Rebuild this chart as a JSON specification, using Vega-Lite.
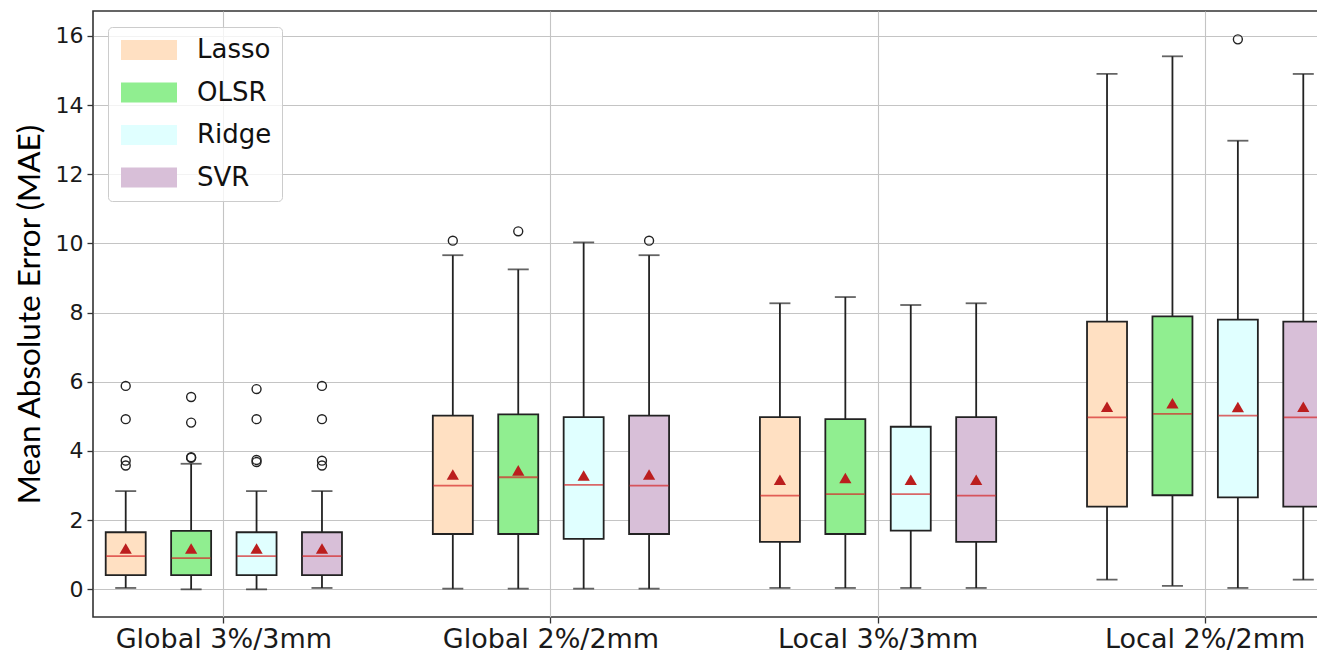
{
  "$schema": "https://vega.github.io/schema/vega-lite/v6.json",
  "autosize": {"type": "none"},
  "padding": {"left": 93, "top": 11, "right": -2, "bottom": 36},
  "width": 1226,
  "height": 606,
  "background": "white",
  "config": {
    "view": {"stroke": "#333333", "strokeWidth": 1.6},
    "axis": {
      "gridColor": "#c4c4c4",
      "gridWidth": 1.1,
      "tickColor": "#333333",
      "tickSize": 6,
      "tickWidth": 1.3,
      "domain": false,
      "labelColor": "#1a1a1a",
      "labelFont": "DejaVu Sans"
    }
  },
  "datasets": {
    "boxes": [
      {"group": "Global 3%/3mm", "model": "Lasso", "lower": 0.04, "q1": 0.41, "median": 0.96, "q3": 1.65, "upper": 2.84, "mean": 1.18},
      {"group": "Global 3%/3mm", "model": "OLSR", "lower": 0.0, "q1": 0.41, "median": 0.9, "q3": 1.69, "upper": 3.63, "mean": 1.18},
      {"group": "Global 3%/3mm", "model": "Ridge", "lower": 0.0, "q1": 0.41, "median": 0.96, "q3": 1.65, "upper": 2.84, "mean": 1.18},
      {"group": "Global 3%/3mm", "model": "SVR", "lower": 0.04, "q1": 0.41, "median": 0.96, "q3": 1.65, "upper": 2.84, "mean": 1.18},
      {"group": "Global 2%/2mm", "model": "Lasso", "lower": 0.02, "q1": 1.6, "median": 3.0, "q3": 5.02, "upper": 9.66, "mean": 3.32},
      {"group": "Global 2%/2mm", "model": "OLSR", "lower": 0.02, "q1": 1.6, "median": 3.24, "q3": 5.06, "upper": 9.25, "mean": 3.44},
      {"group": "Global 2%/2mm", "model": "Ridge", "lower": 0.02, "q1": 1.46, "median": 3.02, "q3": 4.98, "upper": 10.03, "mean": 3.29},
      {"group": "Global 2%/2mm", "model": "SVR", "lower": 0.02, "q1": 1.6, "median": 3.0, "q3": 5.02, "upper": 9.66, "mean": 3.32},
      {"group": "Local 3%/3mm", "model": "Lasso", "lower": 0.04, "q1": 1.37, "median": 2.71, "q3": 4.98, "upper": 8.27, "mean": 3.17},
      {"group": "Local 3%/3mm", "model": "OLSR", "lower": 0.04, "q1": 1.6, "median": 2.75, "q3": 4.92, "upper": 8.45, "mean": 3.22},
      {"group": "Local 3%/3mm", "model": "Ridge", "lower": 0.04, "q1": 1.7, "median": 2.75, "q3": 4.7, "upper": 8.22, "mean": 3.17},
      {"group": "Local 3%/3mm", "model": "SVR", "lower": 0.04, "q1": 1.37, "median": 2.71, "q3": 4.98, "upper": 8.27, "mean": 3.17},
      {"group": "Local 2%/2mm", "model": "Lasso", "lower": 0.28, "q1": 2.39, "median": 4.97, "q3": 7.74, "upper": 14.9, "mean": 5.28},
      {"group": "Local 2%/2mm", "model": "OLSR", "lower": 0.1, "q1": 2.72, "median": 5.07, "q3": 7.89, "upper": 15.41, "mean": 5.38},
      {"group": "Local 2%/2mm", "model": "Ridge", "lower": 0.04, "q1": 2.66, "median": 5.02, "q3": 7.8, "upper": 12.97, "mean": 5.27},
      {"group": "Local 2%/2mm", "model": "SVR", "lower": 0.28, "q1": 2.39, "median": 4.97, "q3": 7.74, "upper": 14.9, "mean": 5.28}
    ],
    "outliers": [
      {"group": "Global 3%/3mm", "model": "Lasso", "value": 5.88},
      {"group": "Global 3%/3mm", "model": "Lasso", "value": 4.92},
      {"group": "Global 3%/3mm", "model": "Lasso", "value": 3.72},
      {"group": "Global 3%/3mm", "model": "Lasso", "value": 3.58},
      {"group": "Global 3%/3mm", "model": "OLSR", "value": 5.56},
      {"group": "Global 3%/3mm", "model": "OLSR", "value": 4.82},
      {"group": "Global 3%/3mm", "model": "OLSR", "value": 3.82},
      {"group": "Global 3%/3mm", "model": "OLSR", "value": 3.8},
      {"group": "Global 3%/3mm", "model": "Ridge", "value": 5.79},
      {"group": "Global 3%/3mm", "model": "Ridge", "value": 4.92},
      {"group": "Global 3%/3mm", "model": "Ridge", "value": 3.74},
      {"group": "Global 3%/3mm", "model": "Ridge", "value": 3.68},
      {"group": "Global 3%/3mm", "model": "SVR", "value": 5.88},
      {"group": "Global 3%/3mm", "model": "SVR", "value": 4.92},
      {"group": "Global 3%/3mm", "model": "SVR", "value": 3.72},
      {"group": "Global 3%/3mm", "model": "SVR", "value": 3.58},
      {"group": "Global 2%/2mm", "model": "Lasso", "value": 10.08},
      {"group": "Global 2%/2mm", "model": "OLSR", "value": 10.35},
      {"group": "Global 2%/2mm", "model": "SVR", "value": 10.08},
      {"group": "Local 2%/2mm", "model": "Ridge", "value": 15.9}
    ]
  },
  "data": {"name": "boxes"},
  "encoding": {
    "x": {
      "field": "group",
      "type": "nominal",
      "sort": ["Global 3%/3mm", "Global 2%/2mm", "Local 3%/3mm", "Local 2%/2mm"],
      "scale": {"range": [0, 1243], "paddingInner": 0.2, "paddingOuter": 0},
      "axis": {"title": null, "grid": true, "bandPosition": 0.5, "labelAngle": 0, "labelFontSize": 27, "labelPadding": 3, "labelLimit": 0}
    },
    "xOffset": {
      "field": "model",
      "type": "nominal",
      "sort": ["Lasso", "OLSR", "Ridge", "SVR"],
      "scale": {"paddingInner": 0, "paddingOuter": 0}
    }
  },
  "layer": [
    {
      "mark": {"type": "rule", "color": "#222222", "strokeWidth": 1.8},
      "encoding": {
        "y": {
          "field": "lower",
          "type": "quantitative",
          "scale": {"domain": [-0.8, 16.72], "nice": false, "zero": false},
          "axis": {
            "values": [0, 2, 4, 6, 8, 10, 12, 14, 16],
            "grid": true,
            "labelFontSize": 22,
            "labelPadding": 4,
            "title": "Mean Absolute Error (MAE)",
            "titleFont": "Lato",
            "titleFontSize": 31.5,
            "titleFontWeight": "normal",
            "titleColor": "#000000",
            "titlePadding": 9
          }
        },
        "y2": {"field": "upper"}
      }
    },
    {
      "mark": {"type": "tick", "color": "#222222", "thickness": 1.8, "size": 21},
      "encoding": {"y": {"field": "lower", "type": "quantitative"}}
    },
    {
      "mark": {"type": "tick", "color": "#222222", "thickness": 1.8, "size": 21},
      "encoding": {"y": {"field": "upper", "type": "quantitative"}}
    },
    {
      "mark": {"type": "bar", "width": 40, "stroke": "#222222", "strokeWidth": 1.8, "opacity": 1, "fillOpacity": 1},
      "encoding": {
        "y": {"field": "q3", "type": "quantitative"},
        "y2": {"field": "q1"},
        "fill": {
          "field": "model",
          "type": "nominal",
          "sort": ["Lasso", "OLSR", "Ridge", "SVR"],
          "scale": {"domain": ["Lasso", "OLSR", "Ridge", "SVR"], "range": ["#FFE0C2", "#90EE90", "#E0FFFF", "#D8BFD8"]},
          "legend": {
            "title": null,
            "orient": "none",
            "legendX": 15,
            "legendY": 16,
            "symbolType": "M-1,-1H4.6V1H-1Z",
            "symbolSize": 400,
            "symbolStrokeWidth": 0,
            "symbolOpacity": 1,
            "labelFont": "DejaVu Sans",
            "labelFontSize": 26,
            "labelColor": "#111111",
            "labelOffset": 53,
            "rowPadding": 16.5,
            "padding": 10,
            "fillColor": "rgba(255,255,255,0.8)",
            "strokeColor": "#cccccc",
            "cornerRadius": 4
          }
        }
      }
    },
    {
      "mark": {"type": "tick", "color": "#d62728", "thickness": 1.8, "size": 39},
      "encoding": {"y": {"field": "median", "type": "quantitative"}}
    },
    {
      "mark": {"type": "point", "shape": "triangle-up", "filled": true, "color": "#bb1e1e", "size": 150, "opacity": 1},
      "encoding": {"y": {"field": "mean", "type": "quantitative"}}
    },
    {
      "data": {"name": "outliers"},
      "mark": {"type": "point", "shape": "circle", "filled": false, "stroke": "#222222", "strokeWidth": 1.4, "size": 80, "opacity": 1},
      "encoding": {"y": {"field": "value", "type": "quantitative"}}
    }
  ]
}
